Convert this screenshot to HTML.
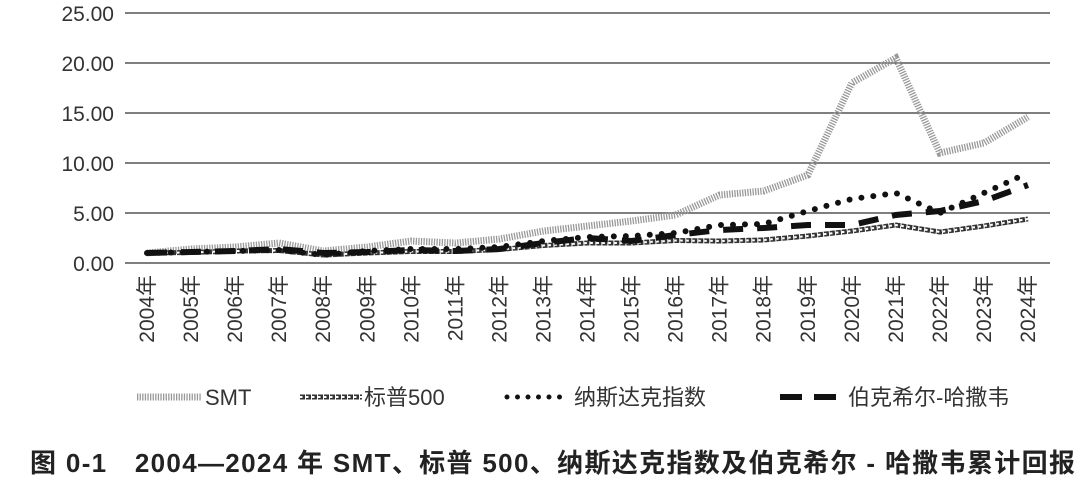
<!DOCTYPE html><html><head><meta charset="utf-8"><style>body{margin:0;background:#fff}svg{display:block}text{font-family:"Liberation Sans","Noto Sans CJK SC",sans-serif}</style></head><body>
<svg width="1080" height="478" viewBox="0 0 1080 478" xmlns="http://www.w3.org/2000/svg">
<g stroke="#555" stroke-width="1.5">
<line x1="125" x2="1050" y1="13" y2="13"/><line x1="125" x2="1050" y1="63" y2="63"/><line x1="125" x2="1050" y1="113" y2="113"/><line x1="125" x2="1050" y1="163" y2="163"/><line x1="125" x2="1050" y1="213" y2="213"/><line x1="125" x2="1050" y1="263" y2="263"/></g>
<g font-size="21" fill="#333" text-anchor="end">
<text x="114" y="21">25.00</text><text x="114" y="71">20.00</text><text x="114" y="121">15.00</text><text x="114" y="171">10.00</text><text x="114" y="221">5.00</text><text x="114" y="271">0.00</text></g>
<g font-size="21" fill="#333" id="xl"></g>
<g fill="none" id="series"></g>
<g font-size="22" fill="#333">
<line x1="137" x2="202" y1="397" y2="397" stroke="#999" stroke-width="7" stroke-dasharray="1.3 1.3"/><text x="205" y="405">SMT</text>
<line x1="300" x2="362" y1="397" y2="397" stroke="#333" stroke-width="5" stroke-dasharray="5 1"/><line x1="300" x2="362" y1="397" y2="397" stroke="#fff" stroke-width="2" stroke-dasharray="2.5 3.5"/><text x="364" y="405">标普500</text>
<line x1="507" x2="570" y1="397" y2="397" stroke="#111" stroke-width="5" stroke-linecap="round" stroke-dasharray="0 10.5"/><text x="574" y="405">纳斯达克指数</text>
<line x1="780" x2="845" y1="397" y2="397" stroke="#111" stroke-width="6" stroke-dasharray="22 12"/><text x="848" y="405">伯克希尔-哈撒韦</text></g>
<text x="30" y="472" font-size="26" font-weight="bold" fill="#222" textLength="1045">图 0-1　2004—2024 年 SMT、标普 500、纳斯达克指数及伯克希尔 - 哈撒韦累计回报</text>
</svg>
<script>
var X=i=>147+44.05*i,Y=v=>263-10*v;
var xl=document.getElementById('xl'),s='';
for(var i=0;i<21;i++){var x=X(i)+7;s+='<text transform="translate('+x+',275) rotate(-90)" text-anchor="end">'+(2004+i)+'年</text>';}
xl.innerHTML=s;
function P(d){return d.map((v,i)=>(i?'L':'M')+X(i).toFixed(1)+','+Y(v).toFixed(1)).join(' ');}
var smt=[1,1.4,1.6,2.0,1.2,1.6,2.2,2.0,2.4,3.2,3.7,4.2,4.8,6.8,7.2,8.8,18,20.5,11,12,14.6];
var sp=[1,1.05,1.2,1.25,0.8,1.0,1.15,1.15,1.35,1.75,2.0,2.0,2.25,2.2,2.3,2.7,3.2,3.8,3.1,3.7,4.4];
var nq=[1,1.1,1.2,1.3,0.8,1.2,1.4,1.4,1.6,2.2,2.6,2.7,3.0,3.8,3.9,5.2,6.4,7.0,5.0,7.0,9.0];
var bh=[1,1.1,1.2,1.4,1.0,1.1,1.3,1.2,1.4,2.0,2.5,2.2,2.8,3.3,3.5,3.8,3.8,4.8,5.2,6.2,7.8];
document.getElementById('series').innerHTML=
'<path d="'+P(smt)+'" stroke="#999" stroke-width="7" stroke-dasharray="1.3 1.3"/>'+
'<path d="'+P(sp)+'" stroke="#333" stroke-width="5" stroke-dasharray="5 1"/>'+
'<path d="'+P(sp)+'" stroke="#fff" stroke-width="2" stroke-dasharray="2.5 3.5"/>'+
'<path d="'+P(nq)+'" stroke="#111" stroke-width="6" stroke-linecap="round" stroke-dasharray="0 12"/>'+
'<path d="'+P(bh)+'" stroke="#111" stroke-width="6" stroke-dasharray="20 14"/>';
</script>
</body></html>
